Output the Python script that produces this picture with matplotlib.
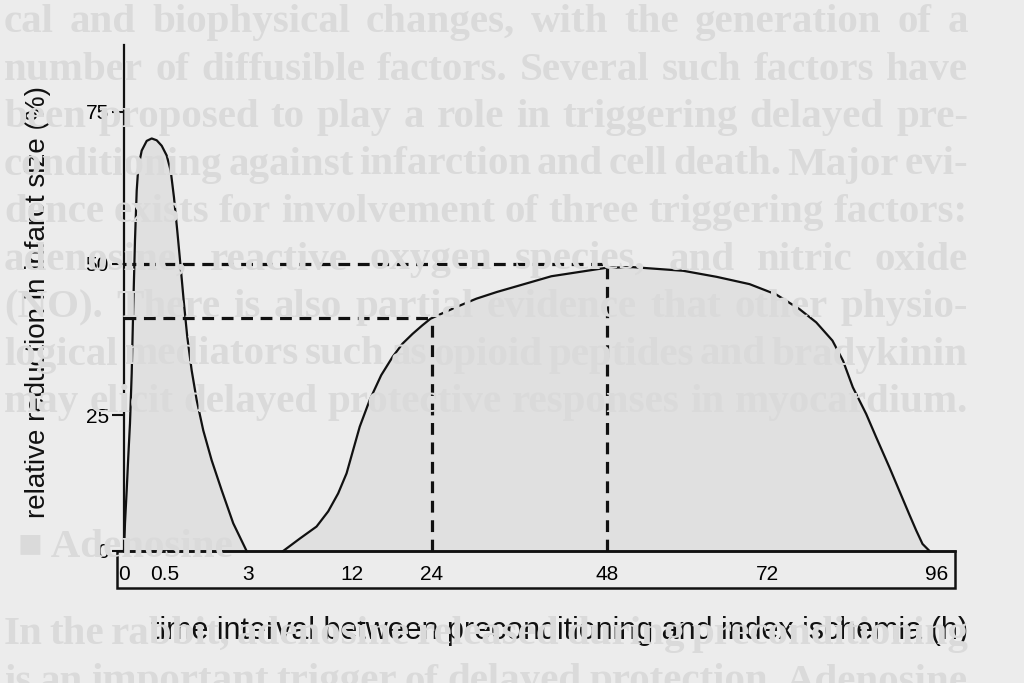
import numpy as np
import matplotlib
matplotlib.use("Agg")
import matplotlib.pyplot as plt
from matplotlib.patches import Rectangle

# Datos (horas, % de reduccion del infarto)
early_hours = [0, 0.012, 0.033, 0.052, 0.073, 0.094, 0.113, 0.134, 0.155, 0.174, 0.216, 0.277,
               0.338, 0.399, 0.46, 0.551, 0.672, 0.771, 0.87, 0.973, 1.072, 1.172, 1.304, 1.455,
               1.654, 1.907, 2.208, 2.557, 2.96]
early_values = [0, 5.1, 11.2, 17.3, 23.5, 31.9, 42.8, 53.8, 62.0, 65.8, 68.6, 70.2,
                70.6, 70.3, 69.4, 67.8, 65.3, 60.9, 55.4, 49.4, 43.4, 37.9, 32.4, 27.5,
                22.2, 16.7, 11.2, 5.1, 0]

late_hours = [6.05, 7.5, 8.94, 9.95, 10.81, 11.54, 12.19, 13.18, 14.67, 16.4, 18.1, 19.6, 21.1,
              22.56, 23.8, 25.45, 27.3, 30.1, 32.9, 40.4, 48, 51.9, 59.4, 64.4, 69.3, 73.2,
              76.5, 78.9, 81.2, 82.7, 84.1, 86.0, 87.4, 89.3, 90.7, 92.1, 93.1, 94.0, 95.0]
late_values = [0, 2.3, 4.5, 7.3, 10.6, 14.3, 18.6, 22.9, 27.5, 31.6, 34.6, 36.8, 38.4,
               39.8, 40.9, 41.8, 42.8, 44.2, 45.3, 47.9, 49.3, 49.4, 48.8, 47.8, 46.6, 44.9,
               42.5, 40.3, 37.3, 34.0, 29.6, 25.2, 21.0, 15.4, 11.1, 6.8, 3.8, 1.3, 0]

x_ticks = [0, 0.5, 3, 12, 24, 48, 72, 96]
x_tick_labels = ["0", "0.5", "3", "12", "24", "48", "72", "96"]
y_ticks = [0, 25, 50, 75]
marked_hours = [24, 48]
marked_values = [41, 50]

# texto del libro que se transparenta en el escaneo
page_lines = [
    "cal and biophysical changes, with the generation of a",
    "number of diffusible factors. Several such factors have",
    "been proposed to play a role in triggering delayed pre-",
    "conditioning against infarction and cell death. Major evi-",
    "dence exists for involvement of three triggering factors:",
    "adenosine, reactive oxygen species, and nitric oxide",
    "(NO). There is also partial evidence that other physio-",
    "logical mediators such as opioid peptides and bradykinin",
    "may elicit delayed protective responses in myocardium.",
]
page_heading = "\u25a0 Adenosine"
page_tail = [
    "In the rabbit, adenosine released during preconditioning",
    "is an important trigger of delayed protection. Adenosine",
]

# escala del eje x no lineal (a tramos), igual que en el dibujo original
x_nodes = np.array([-1, 0, 0.5, 3, 12, 24, 48, 72, 96, 120])
x_pos = np.array([42, 124, 165, 248, 352, 432, 607, 768, 937, 1107], dtype=float)
y_nodes = np.array([-25, 0, 25, 50, 75, 100])
y_pos = np.array([-136, 0, 136, 288, 440, 592], dtype=float)


def fx(h):
    return np.interp(h, x_nodes, x_pos)


def ix(p):
    return np.interp(p, x_pos, x_nodes)


def fy(v):
    return np.interp(v, y_nodes, y_pos)


def iy(p):
    return np.interp(p, y_pos, y_nodes)


plt.rcParams["font.family"] = ["Liberation Sans", "DejaVu Sans"]
plt.rcParams["lines.scale_dashes"] = False
bg = "#ececec"
ink = "#111111"
W, H = 1024, 683

fig = plt.figure(figsize=(10.24, 6.83), dpi=100, facecolor=bg)
renderer = fig.canvas.get_renderer()
page_style = dict(family="Liberation Serif", fontsize=29.5, fontweight="bold",
                  color="#dadada", zorder=0)


def justified(line, y_px, left=4, right=968):
    # reparte las palabras para que la linea ocupe todo el ancho, como en el libro
    words = line.split()
    texts = [fig.text(0, 1 - y_px / H, w, **page_style) for w in words]
    widths = [t.get_window_extent(renderer=renderer).width for t in texts]
    gap = (right - left - sum(widths)) / max(len(words) - 1, 1)
    x = left
    for t, w in zip(texts, widths):
        t.set_x(x / W)
        x += w + gap


for i, line in enumerate(page_lines):
    justified(line, 32 + 47.5 * i)
fig.text(18 / W, 1 - 557 / H, page_heading, **page_style)
for i, line in enumerate(page_tail):
    justified(line, 644 + 47.5 * i)

ax = fig.add_axes([124 / W, (H - 551) / H, (955 - 124) / W, (551 - 45) / H])
ax.set_facecolor("none")
ax.set_xscale("function", functions=(fx, ix))
ax.set_yscale("function", functions=(fy, iy))
ax.set_xlim(0, 98.6)
ax.set_ylim(0, 86)

for hrs, vals in [(early_hours, early_values), (late_hours, late_values)]:
    ax.fill_between(hrs, vals, 0, color="#e0e0e0", lw=0, zorder=1)
    ax.plot(hrs, vals, color=ink, lw=1.6, zorder=3, clip_on=False,
            solid_joinstyle="round")

# lineas discontinuas de referencia
for h, v in zip(marked_hours, marked_values):
    ax.plot([0, h], [v, v], color=ink, lw=2.3, dashes=(8.5, 5.5), zorder=2)
    ax.plot([h, h], [0, v], color=ink, lw=2.3, dashes=(8.5, 5.5), zorder=2)

ax.spines["top"].set_visible(False)
ax.spines["right"].set_visible(False)
ax.spines["left"].set_linewidth(1.6)
ax.spines["bottom"].set_linewidth(1.8)
ax.spines["left"].set_color(ink)
ax.spines["bottom"].set_color(ink)

ax.set_yticks(y_ticks)
ax.set_yticklabels([str(t) for t in y_ticks])
ax.tick_params(axis="y", length=9, width=1.5, pad=2, labelsize=15, color=ink)

ax.set_xticks(x_ticks)
ax.set_xticklabels(x_tick_labels)
ax.tick_params(axis="x", length=0, pad=10, labelsize=15)
ax.set_xticks([24], minor=True)
ax.tick_params(axis="x", which="minor", length=6, width=1.6, direction="out", color=ink)

# caja bajo el eje x con las etiquetas
box = Rectangle((-7 / 831, -37 / 506), 1 + 7 / 831, 37 / 506, transform=ax.transAxes,
                fill=False, lw=1.8, ec=ink, clip_on=False)
ax.add_patch(box)

ax.set_xlabel("time interval between preconditioning and index ischemia (h)", fontsize=22,
              va="center", color=ink)
ax.xaxis.set_label_coords((560 - 124) / 831, (551 - 631) / 506)
ax.set_ylabel("relative reduction in infarct size (%)", fontsize=20, va="center", color=ink)
ax.yaxis.set_label_coords((38 - 124) / 831, (551 - 302) / 506)

fig.savefig("out.png", dpi=100, facecolor=bg)
